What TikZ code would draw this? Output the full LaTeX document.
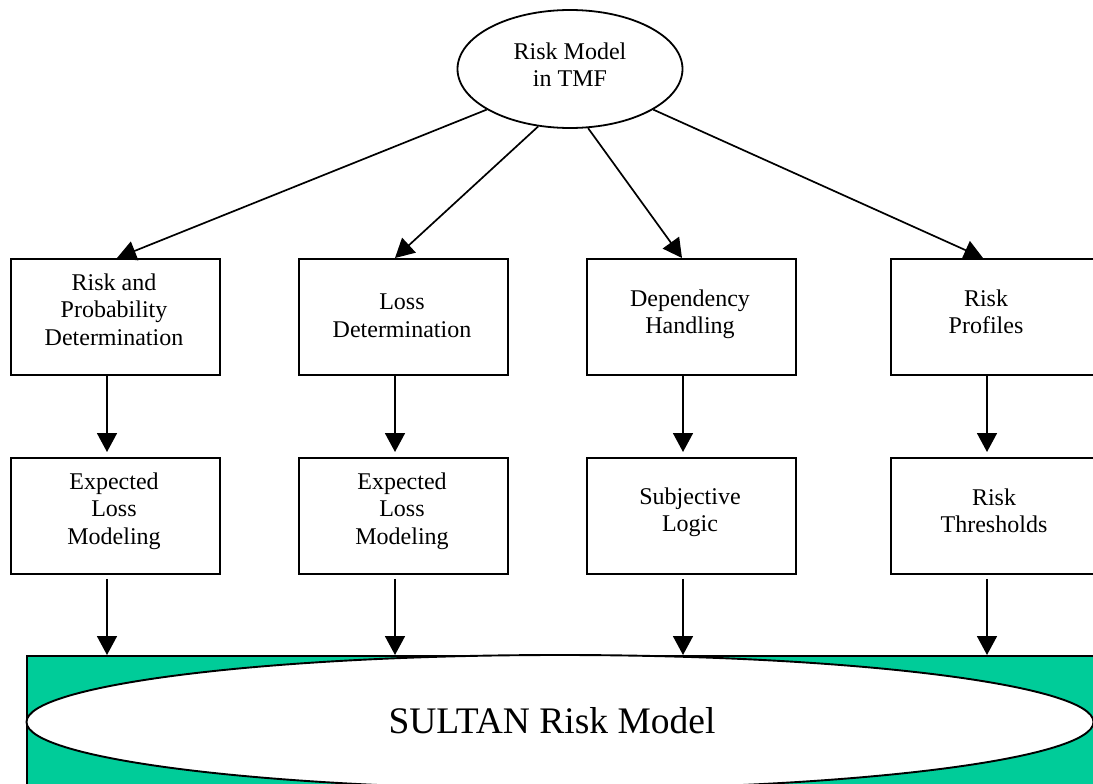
\documentclass[tikz,border=0pt]{standalone}
\usepackage{fontspec}
\setmainfont{Liberation Serif}
\usetikzlibrary{arrows.meta,shapes.geometric}
\definecolor{basegreen}{RGB}{0,204,153}
\begin{document}
\begin{tikzpicture}[x=1bp,y=-1bp,
  box/.style={draw,line width=1.9bp,minimum width=209bp,minimum height=116bp,
    inner sep=0pt,anchor=north west},
  lbl/.style={align=center,font=\fontsize{24bp}{27.5bp}\selectfont,inner sep=0pt},
  link/.style={line width=1.7bp,-{Triangle[length=19bp,width=20bp]}}]
\useasboundingbox (0,0) rectangle (1093,784);
\clip (0,0) rectangle (1093,784);

% root of the hierarchy
\node[draw,ellipse,line width=1.8bp,minimum width=225bp,minimum height=118bp,inner sep=0pt]
  (tmf) at (570,69) {};
\node[lbl] (tmftext) at (570,64.5) {Risk Model\\in TMF};

% first row of boxes
\node[box] (b1) at (10,258) {};
\node[box] (b2) at (298,258) {};
\node[box] (b3) at (586,258) {};
\node[box] (b4) at (890,258) {};
\node[lbl] (t1) at (114,309.3) {Risk and\\Probability\\Determination};
\node[lbl] (t2) at (402,315.8) {Loss\\Determination};
\node[lbl] (t3) at (690,314.2) {Dependency\\Handling};
\node[lbl] (t4) at (986,311.6) {Risk\\Profiles};

% second row of boxes
\node[box] (c1) at (10,457) {};
\node[box] (c2) at (298,457) {};
\node[box] (c3) at (586,457) {};
\node[box] (c4) at (890,457) {};
\node[lbl] (u1) at (114,510.9) {Expected\\Loss\\Modeling};
\node[lbl] (u2) at (402,510.9) {Expected\\Loss\\Modeling};
\node[lbl] (u3) at (690,512.2) {Subjective\\Logic};
\node[lbl] (u4) at (994,510.6) {Risk\\Thresholds};

% common base model
\node[draw,fill=basegreen,line width=1.9bp,minimum width=1090bp,minimum height=160bp,
  inner sep=0pt,anchor=north west] (base) at (26,655) {};
\node[draw,fill=white,ellipse,line width=1.9bp,minimum width=1067bp,minimum height=134bp,
  inner sep=0pt] (sultan) at (560,722) {};
\node[font=\fontsize{37.5bp}{40bp}\selectfont,anchor=base,inner sep=0pt]
  (sultantext) at (552,733) {SULTAN Risk Model};

% connectors from the root
\draw[link] (tmf.206) -- ([xshift=107bp]b1.north west);
\draw[link] (tmf.241) -- ([xshift=97bp]b2.north west);
\draw[link] (tmf.287) -- ([xshift=96bp]b3.north west);
\draw[link] (tmf.334) -- ([xshift=93bp]b4.north west);

% row one to row two
\foreach \a/\b in {b1/c1,b2/c2,b3/c3,b4/c4}
  \draw[link,shorten >=5bp] ([xshift=97bp]\a.south west) -- ([xshift=97bp]\b.north west);

% row two to the base model
\foreach \a in {c1,c2,c3,c4} {
  \coordinate (\a-out) at ([xshift=97bp]\a.south west);
  \draw[link,shorten <=4bp] (\a-out) -- (\a-out |- base.north);
}
\end{tikzpicture}
\end{document}
